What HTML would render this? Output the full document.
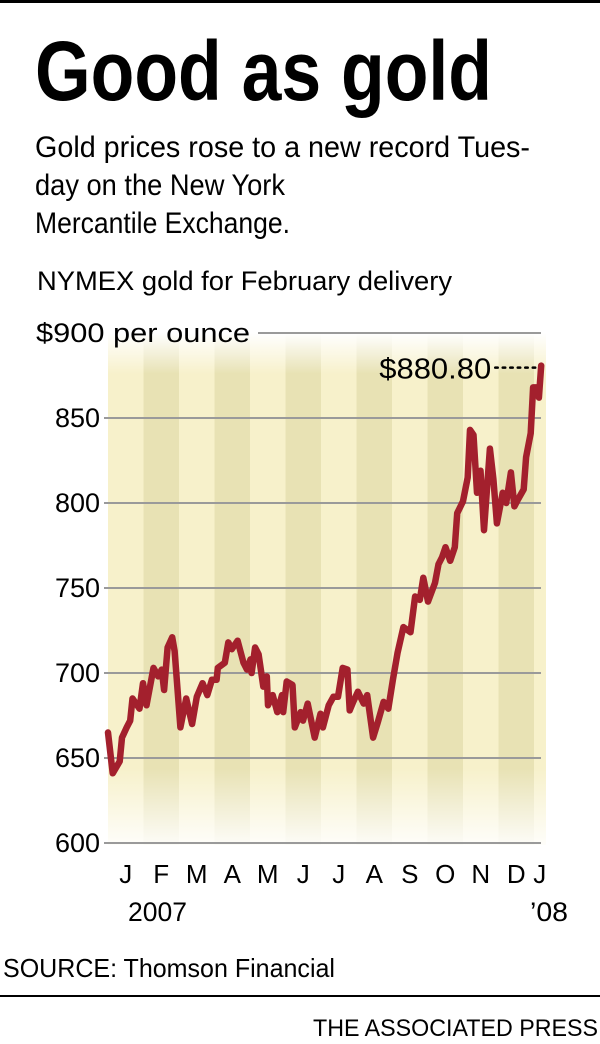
<!DOCTYPE html>
<html><head><meta charset="utf-8"><style>
html,body{margin:0;padding:0;background:#fff;width:600px;height:1044px;overflow:hidden}
svg text{font-family:"Liberation Sans",sans-serif;fill:#000}
</style></head><body>
<svg id="chart" width="600" height="1044" viewBox="0 0 600 1044" xmlns="http://www.w3.org/2000/svg">
<defs>
<linearGradient id="fadeL" x1="0" y1="0" x2="0" y2="1">
<stop offset="0" stop-color="#fff" stop-opacity="1"/>
<stop offset="0.08" stop-color="#fff" stop-opacity="0"/>
<stop offset="0.85" stop-color="#fff" stop-opacity="0"/>
<stop offset="1" stop-color="#fff" stop-opacity="0.9"/>
</linearGradient>
</defs>
<rect x="0" y="0" width="600" height="3" fill="#000"/>
<text x="35" y="100" font-size="84" font-weight="bold" textLength="457" lengthAdjust="spacingAndGlyphs">Good as gold</text>
<text x="35" y="157" font-size="30" textLength="495" lengthAdjust="spacingAndGlyphs">Gold prices rose to a new record Tues-</text>
<text x="35" y="195" font-size="30" textLength="250" lengthAdjust="spacingAndGlyphs">day on the New York</text>
<text x="35" y="233" font-size="30" textLength="255" lengthAdjust="spacingAndGlyphs">Mercantile Exchange.</text>
<text x="37" y="290" font-size="27" textLength="415" lengthAdjust="spacingAndGlyphs">NYMEX gold for February delivery</text>
<g id="bg"></g>
<rect x="104" y="333" width="444" height="512" fill="url(#fadeL)"/>
<g id="grid"></g>
<g id="ylabels"></g>
<g id="xlabels"></g>
<g id="series"></g>
<text x="128" y="921" font-size="27" textLength="59" lengthAdjust="spacingAndGlyphs">2007</text>
<text x="530" y="921" font-size="27" textLength="38" lengthAdjust="spacingAndGlyphs">’08</text>
<text x="3" y="977" font-size="26" textLength="332" lengthAdjust="spacingAndGlyphs">SOURCE: Thomson Financial</text>
<rect x="0" y="995" width="600" height="2" fill="#000"/>
<text x="598" y="1036" font-size="24" text-anchor="end" textLength="285" lengthAdjust="spacingAndGlyphs">THE ASSOCIATED PRESS</text>
</svg>
<script>
const months = ["J","F","M","A","M","J","J","A","S","O","N","D","J"];
const yTicks = [600,650,700,750,800,850,900];
const days = [0,4,10,12,16,19,21,27,30,33,39,43,46,48,51,55,57,62,67,72,76,81,85,89,93,94,100,103,106,111,116,119,122,123,126,129,133,136,137,141,145,149,150,153,158,160,165,167,171,177,182,184,189,193,197,201,205,207,210,214,219,222,227,231,236,240,244,248,253,259,263,267,270,274,280,283,286,289,293,297,299,304,308,310,313,316,319,322,327,330,333,338,341,345,348,351,356,358,362,364,368,369,371];
const prices = [665,641,648,662,668,672,685,679,694,681,703,698,702,690,715,721,713,668,685,670,686,694,687,696,696,703,706,718,714,719,706,702,708,700,715,711,692,698,681,687,677,687,677,695,693,668,677,672,682,662,676,668,681,686,686,703,702,678,683,689,682,687,662,671,683,679,696,712,727,724,745,743,756,742,753,764,768,774,766,774,794,801,815,843,840,806,819,784,832,814,788,806,800,818,798,802,808,827,841,868,868,862,880.8];
const lastLabel = "$880.80";

const NS="http://www.w3.org/2000/svg";
const X0=108, DAYPX=35.5/30.4;
const Y0=843, PXPER=1.7;
function xs(d){return X0+d*DAYPX;}
function ys(v){return Y0-(v-600)*PXPER;}
function mk(tag,attrs,parent){const e=document.createElementNS(NS,tag);for(const k in attrs)e.setAttribute(k,attrs[k]);parent.appendChild(e);return e;}

const bg=document.getElementById('bg');
const bandW=35.5;
for(let i=0;i<13;i++){
  const x=X0+i*bandW;
  const w=i===12?12:bandW;
  const r=mk('rect',{x:x,y:333,width:w,height:512,fill:i%2?'#e8e2b4':'#f7f1cb'},bg);
  
  
}
const grid=document.getElementById('grid'), yl=document.getElementById('ylabels');
yTicks.forEach(v=>{
  const y=ys(v);
  const x1=v===900?258:104;
  const l=mk('line',{x1:x1,x2:541,y1:y,y2:y,stroke:'#9a9a9a','stroke-width':2},grid);
  
  
  const t=mk('text',{x:v===900?36:100,y:y+9,'font-size':27,'text-anchor':v===900?'start':'end'},yl);
  
  
  t.textContent=v===900?'$900 per ounce':String(v);
  if(v===900){t.setAttribute('textLength','214');t.setAttribute('lengthAdjust','spacingAndGlyphs');}
});
const xl=document.getElementById('xlabels');
months.forEach((m,i)=>{
  const t=mk('text',{x:X0+i*bandW+bandW/2-(i===12?12:0),y:883,'font-size':26,'text-anchor':'middle'},xl);
  
  
  t.textContent=m;
});
const sg=document.getElementById('series');
const pts=days.map((d,i)=>xs(d).toFixed(1)+','+ys(prices[i]).toFixed(1)).join(' ');
const pl=mk('polyline',{points:pts,fill:'none',stroke:'#a3202d','stroke-width':6.5,'stroke-linejoin':'round','stroke-linecap':'round'},sg);


const lx=xs(days[days.length-1]), ly=ys(prices[prices.length-1]);
const dl=mk('line',{x1:lx-46,x2:lx-4,y1:ly+2,y2:ly+2,stroke:'#000','stroke-width':2.5,'stroke-dasharray':'2.5 5','stroke-linecap':'round'},sg);


const lt=mk('text',{x:lx-50,y:ly+13,'font-size':29,'text-anchor':'end',textLength:112,lengthAdjust:'spacingAndGlyphs'},sg);


lt.textContent=lastLabel;
</script>
</body></html>
